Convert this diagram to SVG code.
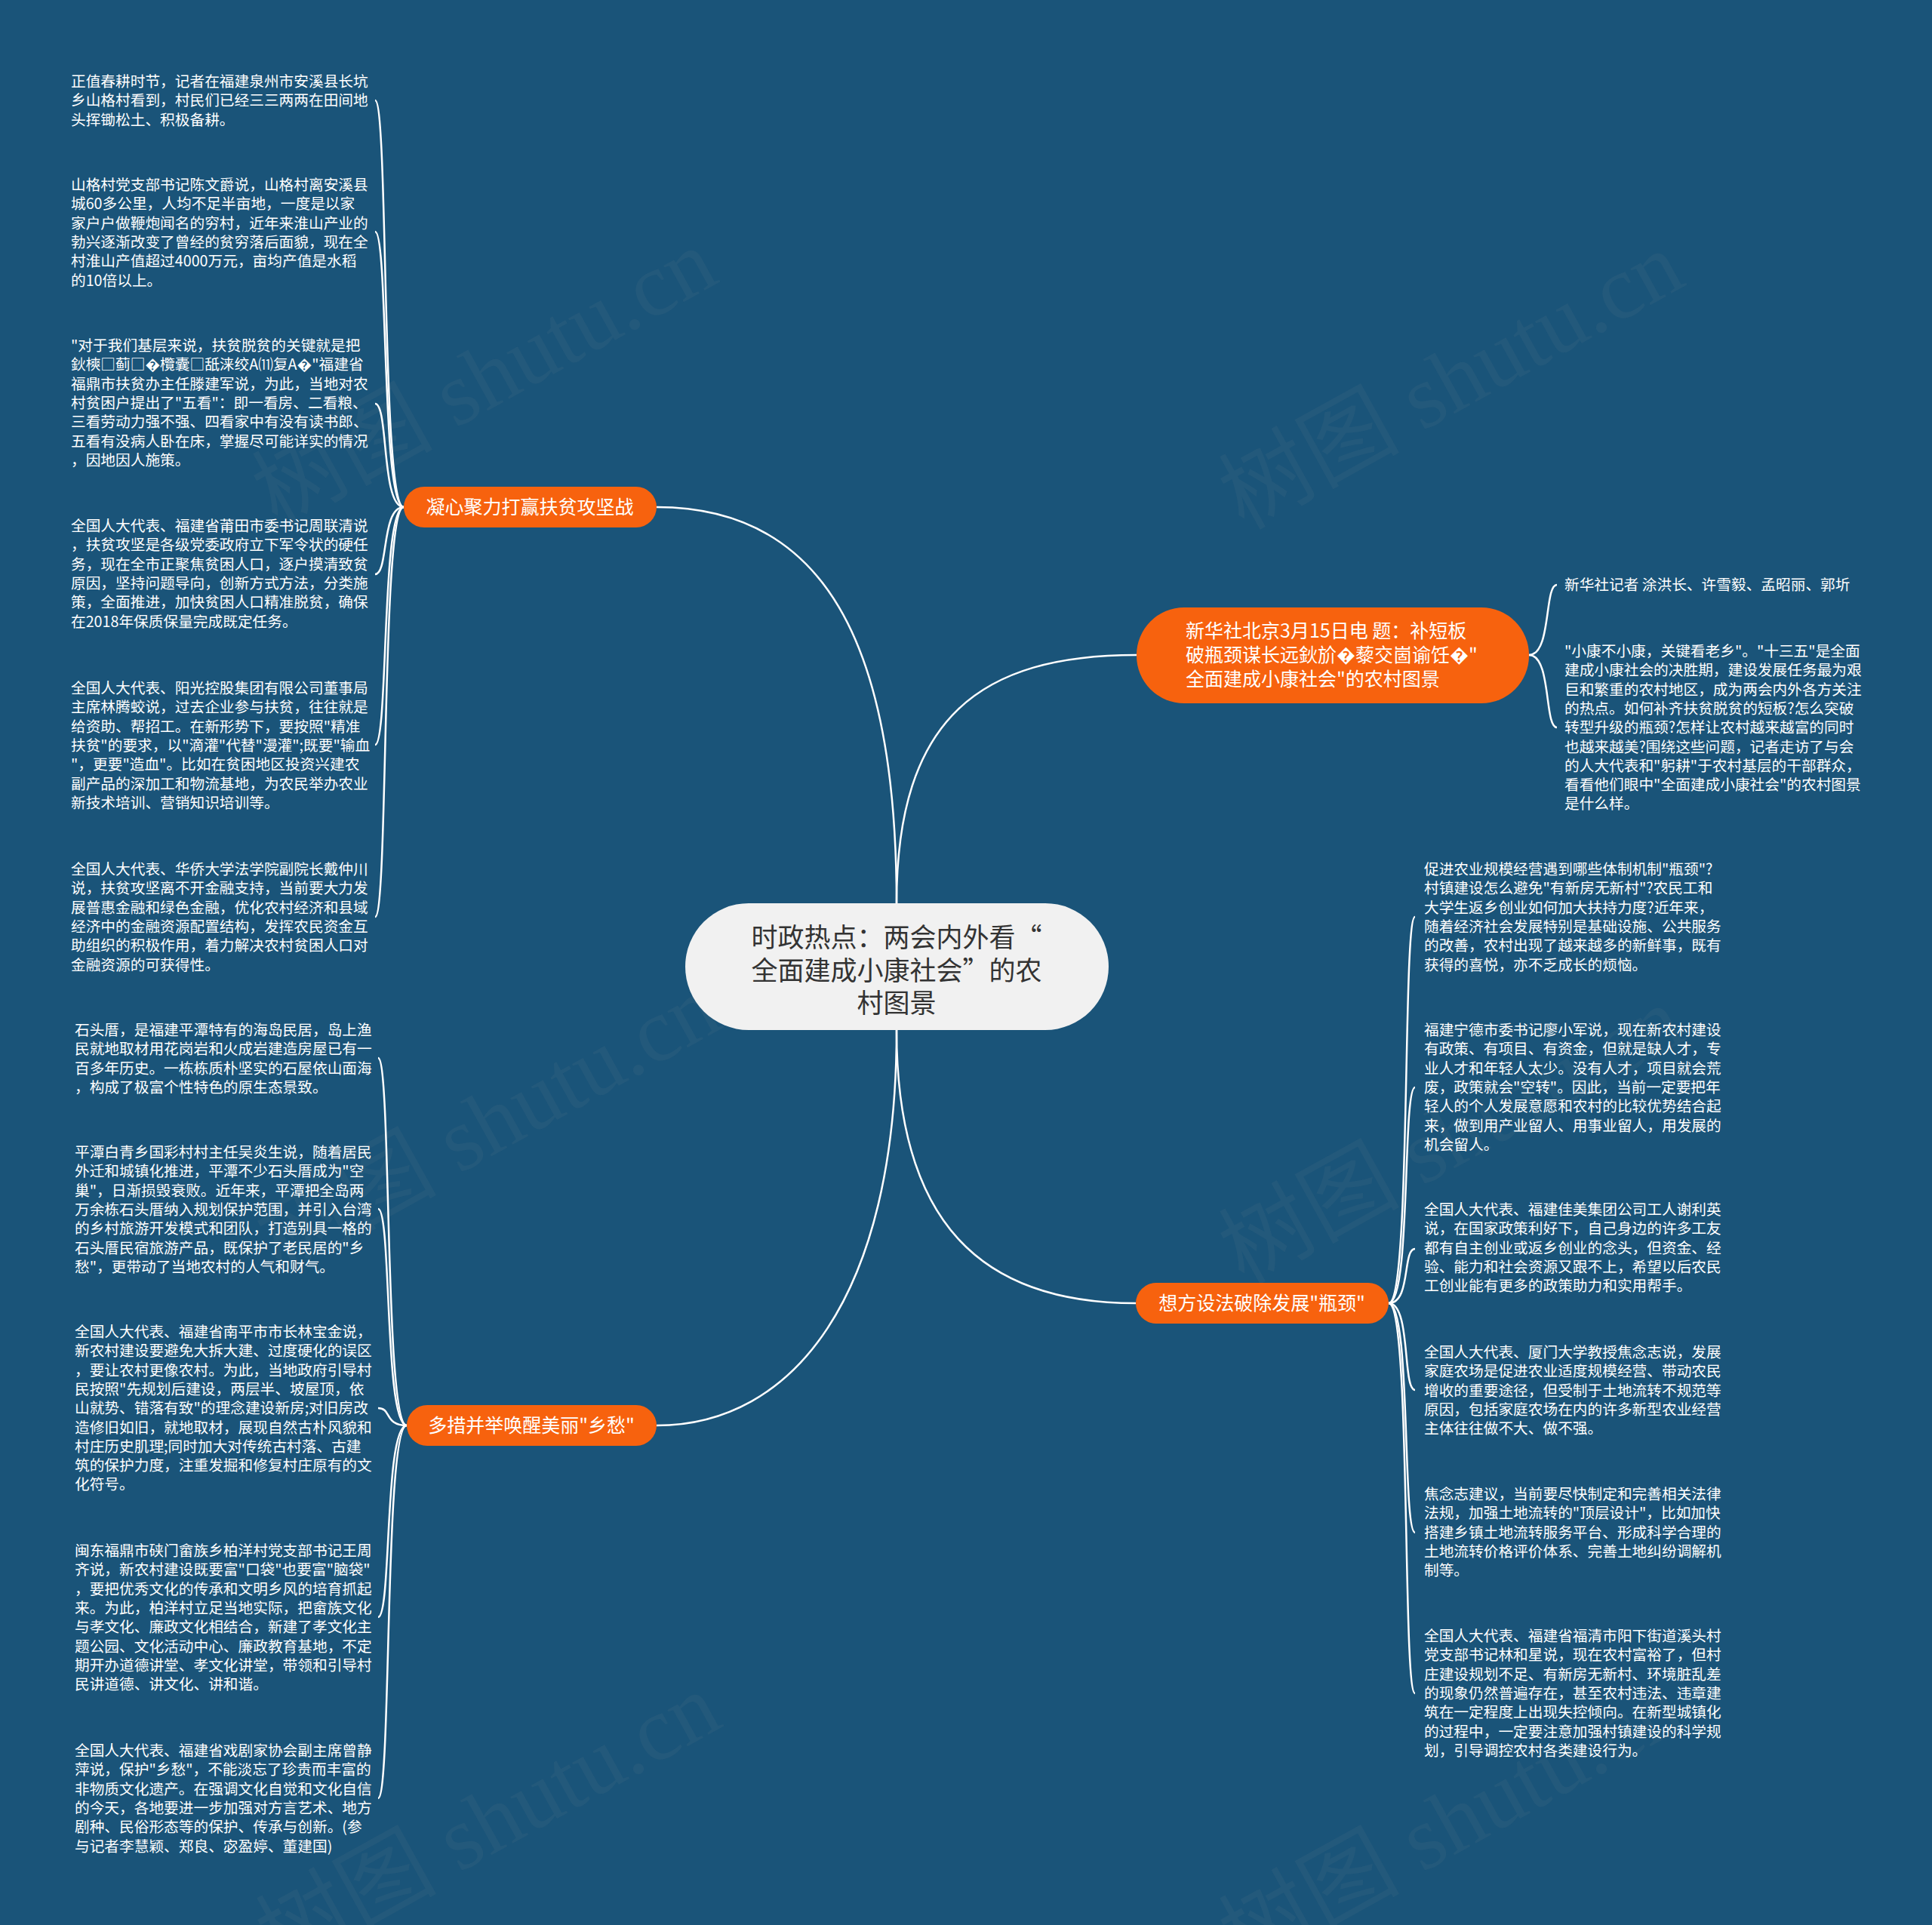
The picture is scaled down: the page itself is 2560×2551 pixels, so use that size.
<svg xmlns="http://www.w3.org/2000/svg" width="2560" height="2551" viewBox="0 0 2560 2551">
<defs>
<style>
.bg{fill:#1a5479}
.wm{font-family:"Liberation Serif","Noto Sans CJK SC",serif;font-size:120px;fill:#9a9a9a;fill-opacity:0.08;text-anchor:middle}
.leaf{font-family:"Noto Sans CJK SC","Noto Sans",sans-serif;font-size:19.7px;fill:#ffffff}
.br{fill:#f7620e}
.brt{font-family:"Noto Sans CJK SC","Noto Sans",sans-serif;font-size:25px;fill:#ffffff}
.ctr{fill:#f1f1f1}
.ctrt{font-family:"Noto Sans CJK SC","Noto Sans",sans-serif;font-size:35px;fill:#333333;text-anchor:middle}
.ln{fill:none;stroke:#ffffff;stroke-width:2.5}
</style>
</defs>
<rect class="bg" x="0" y="0" width="2560" height="2551"/>
<g id="watermarks">
<text class="wm" x="645" y="540" transform="rotate(-29 645 506)">树图 shutu.cn</text>
<text class="wm" x="1926" y="544" transform="rotate(-29 1926 510)">树图 shutu.cn</text>
<text class="wm" x="650" y="1528" transform="rotate(-29 650 1494)">树图 shutu.cn</text>
<text class="wm" x="1926" y="1544" transform="rotate(-29 1926 1510)">树图 shutu.cn</text>
<text class="wm" x="650" y="2454" transform="rotate(-29 650 2420)">树图 shutu.cn</text>
<text class="wm" x="1926" y="2454" transform="rotate(-29 1926 2420)">树图 shutu.cn</text>
</g>
<g id="connectors">
<path class="ln" d="M1188 1197 C1188 850 1090 672 870 672"/>
<path class="ln" d="M1188 1197 C1188 950 1300 868 1506 868"/>
<path class="ln" d="M1188 1365 C1188 1720 1050 1889 870 1889"/>
<path class="ln" d="M1188 1365 C1188 1620 1300 1727 1505 1727"/>
<path class="ln" d="M535 672 C505 672 515 133 497 133"/>
<path class="ln" d="M535 672 C505 672 515 307 497 307"/>
<path class="ln" d="M535 672 C505 672 515 535 497 535"/>
<path class="ln" d="M535 672 C505 672 515 761 497 761"/>
<path class="ln" d="M535 672 C505 672 515 987 497 987"/>
<path class="ln" d="M535 672 C505 672 515 1215 497 1215"/>
<path class="ln" d="M539 1889 C509 1889 519 1402 501 1402"/>
<path class="ln" d="M539 1889 C509 1889 519 1602 501 1602"/>
<path class="ln" d="M539 1889 C509 1889 519 1866 501 1866"/>
<path class="ln" d="M539 1889 C509 1889 519 2143 501 2143"/>
<path class="ln" d="M539 1889 C509 1889 519 2383 501 2383"/>
<path class="ln" d="M2026 868 C2056 868 2046 775 2063 775"/>
<path class="ln" d="M2026 868 C2056 868 2046 964 2063 964"/>
<path class="ln" d="M1840 1727 C1870 1727 1858 1215 1875 1215"/>
<path class="ln" d="M1840 1727 C1870 1727 1858 1441 1875 1441"/>
<path class="ln" d="M1840 1727 C1870 1727 1858 1655 1875 1655"/>
<path class="ln" d="M1840 1727 C1870 1727 1858 1842 1875 1842"/>
<path class="ln" d="M1840 1727 C1870 1727 1858 2031 1875 2031"/>
<path class="ln" d="M1840 1727 C1870 1727 1858 2244 1875 2244"/>
</g>
<g id="center">
<rect class="ctr" x="908" y="1197" width="561" height="168" rx="84"/>
<text class="ctrt"><tspan x="1188" y="1255">时政热点：两会内外看“</tspan><tspan x="1188" y="1299">全面建成小康社会”的农</tspan><tspan x="1188" y="1342">村图景</tspan></text>
</g>
<g id="branch1">
<rect class="br" x="535" y="645" width="335" height="54" rx="27"/>
<text class="brt" x="702" y="681" text-anchor="middle">凝心聚力打赢扶贫攻坚战</text>
</g>
<g id="branch2">
<rect class="br" x="539" y="1862" width="331" height="54" rx="27"/>
<text class="brt" x="704" y="1898" text-anchor="middle">多措并举唤醒美丽"乡愁"</text>
</g>
<g id="branch3">
<rect class="br" x="1506" y="805" width="520" height="127" rx="63"/>
<text class="brt"><tspan x="1571" y="845">新华社北京3月15日电 题：补短板</tspan><tspan x="1571" y="877">破瓶颈谋长远鈥斺�藜交崮谕饪�"</tspan><tspan x="1571" y="909">全面建成小康社会"的农村图景</tspan></text>
</g>
<g id="branch4">
<rect class="br" x="1505" y="1700" width="335" height="54" rx="27"/>
<text class="brt" x="1672" y="1736" text-anchor="middle">想方设法破除发展"瓶颈"</text>
</g>
<g id="leaf1-1"><text class="leaf"><tspan x="94" y="115">正值春耕时节，记者在福建泉州市安溪县长坑</tspan><tspan x="94" dy="25.3">乡山格村看到，村民们已经三三两两在田间地</tspan><tspan x="94" dy="25.3">头挥锄松土、积极备耕。</tspan></text></g>
<g id="leaf1-2"><text class="leaf"><tspan x="94" y="252">山格村党支部书记陈文爵说，山格村离安溪县</tspan><tspan x="94" dy="25.3">城60多公里，人均不足半亩地，一度是以家</tspan><tspan x="94" dy="25.3">家户户做鞭炮闻名的穷村，近年来淮山产业的</tspan><tspan x="94" dy="25.3">勃兴逐渐改变了曾经的贫穷落后面貌，现在全</tspan><tspan x="94" dy="25.3">村淮山产值超过4000万元，亩均产值是水稻</tspan><tspan x="94" dy="25.3">的10倍以上。</tspan></text></g>
<g id="leaf1-3"><text class="leaf"><tspan x="94" y="465">"对于我们基层来说，扶贫脱贫的关键就是把</tspan><tspan x="94" dy="25.3">鈥樉□蓟□�欖囊□舐涞绞A⑾复A�"福建省</tspan><tspan x="94" dy="25.3">福鼎市扶贫办主任滕建军说，为此，当地对农</tspan><tspan x="94" dy="25.3">村贫困户提出了"五看"：即一看房、二看粮、</tspan><tspan x="94" dy="25.3">三看劳动力强不强、四看家中有没有读书郎、</tspan><tspan x="94" dy="25.3">五看有没病人卧在床，掌握尽可能详实的情况</tspan><tspan x="94" dy="25.3">，因地因人施策。</tspan></text></g>
<g id="leaf1-4"><text class="leaf"><tspan x="94" y="704">全国人大代表、福建省莆田市委书记周联清说</tspan><tspan x="94" dy="25.3">，扶贫攻坚是各级党委政府立下军令状的硬任</tspan><tspan x="94" dy="25.3">务，现在全市正聚焦贫困人口，逐户摸清致贫</tspan><tspan x="94" dy="25.3">原因，坚持问题导向，创新方式方法，分类施</tspan><tspan x="94" dy="25.3">策，全面推进，加快贫困人口精准脱贫，确保</tspan><tspan x="94" dy="25.3">在2018年保质保量完成既定任务。</tspan></text></g>
<g id="leaf1-5"><text class="leaf"><tspan x="94" y="919">全国人大代表、阳光控股集团有限公司董事局</tspan><tspan x="94" dy="25.3">主席林腾蛟说，过去企业参与扶贫，往往就是</tspan><tspan x="94" dy="25.3">给资助、帮招工。在新形势下，要按照"精准</tspan><tspan x="94" dy="25.3">扶贫"的要求，以"滴灌"代替"漫灌";既要"输血</tspan><tspan x="94" dy="25.3">"，更要"造血"。比如在贫困地区投资兴建农</tspan><tspan x="94" dy="25.3">副产品的深加工和物流基地，为农民举办农业</tspan><tspan x="94" dy="25.3">新技术培训、营销知识培训等。</tspan></text></g>
<g id="leaf1-6"><text class="leaf"><tspan x="94" y="1159">全国人大代表、华侨大学法学院副院长戴仲川</tspan><tspan x="94" dy="25.3">说，扶贫攻坚离不开金融支持，当前要大力发</tspan><tspan x="94" dy="25.3">展普惠金融和绿色金融，优化农村经济和县域</tspan><tspan x="94" dy="25.3">经济中的金融资源配置结构，发挥农民资金互</tspan><tspan x="94" dy="25.3">助组织的积极作用，着力解决农村贫困人口对</tspan><tspan x="94" dy="25.3">金融资源的可获得性。</tspan></text></g>
<g id="leaf2-1"><text class="leaf"><tspan x="99" y="1372">石头厝，是福建平潭特有的海岛民居，岛上渔</tspan><tspan x="99" dy="25.3">民就地取材用花岗岩和火成岩建造房屋已有一</tspan><tspan x="99" dy="25.3">百多年历史。一栋栋质朴坚实的石屋依山面海</tspan><tspan x="99" dy="25.3">，构成了极富个性特色的原生态景致。</tspan></text></g>
<g id="leaf2-2"><text class="leaf"><tspan x="99" y="1534">平潭白青乡国彩村村主任吴炎生说，随着居民</tspan><tspan x="99" dy="25.3">外迁和城镇化推进，平潭不少石头厝成为"空</tspan><tspan x="99" dy="25.3">巢"，日渐损毁衰败。近年来，平潭把全岛两</tspan><tspan x="99" dy="25.3">万余栋石头厝纳入规划保护范围，并引入台湾</tspan><tspan x="99" dy="25.3">的乡村旅游开发模式和团队，打造别具一格的</tspan><tspan x="99" dy="25.3">石头厝民宿旅游产品，既保护了老民居的"乡</tspan><tspan x="99" dy="25.3">愁"，更带动了当地农村的人气和财气。</tspan></text></g>
<g id="leaf2-3"><text class="leaf"><tspan x="99" y="1772">全国人大代表、福建省南平市市长林宝金说，</tspan><tspan x="99" dy="25.3">新农村建设要避免大拆大建、过度硬化的误区</tspan><tspan x="99" dy="25.3">，要让农村更像农村。为此，当地政府引导村</tspan><tspan x="99" dy="25.3">民按照"先规划后建设，两层半、坡屋顶，依</tspan><tspan x="99" dy="25.3">山就势、错落有致"的理念建设新房;对旧房改</tspan><tspan x="99" dy="25.3">造修旧如旧，就地取材，展现自然古朴风貌和</tspan><tspan x="99" dy="25.3">村庄历史肌理;同时加大对传统古村落、古建</tspan><tspan x="99" dy="25.3">筑的保护力度，注重发掘和修复村庄原有的文</tspan><tspan x="99" dy="25.3">化符号。</tspan></text></g>
<g id="leaf2-4"><text class="leaf"><tspan x="99" y="2062">闽东福鼎市硖门畲族乡柏洋村党支部书记王周</tspan><tspan x="99" dy="25.3">齐说，新农村建设既要富"口袋"也要富"脑袋"</tspan><tspan x="99" dy="25.3">，要把优秀文化的传承和文明乡风的培育抓起</tspan><tspan x="99" dy="25.3">来。为此，柏洋村立足当地实际，把畲族文化</tspan><tspan x="99" dy="25.3">与孝文化、廉政文化相结合，新建了孝文化主</tspan><tspan x="99" dy="25.3">题公园、文化活动中心、廉政教育基地，不定</tspan><tspan x="99" dy="25.3">期开办道德讲堂、孝文化讲堂，带领和引导村</tspan><tspan x="99" dy="25.3">民讲道德、讲文化、讲和谐。</tspan></text></g>
<g id="leaf2-5"><text class="leaf"><tspan x="99" y="2327">全国人大代表、福建省戏剧家协会副主席曾静</tspan><tspan x="99" dy="25.3">萍说，保护"乡愁"，不能淡忘了珍贵而丰富的</tspan><tspan x="99" dy="25.3">非物质文化遗产。在强调文化自觉和文化自信</tspan><tspan x="99" dy="25.3">的今天，各地要进一步加强对方言艺术、地方</tspan><tspan x="99" dy="25.3">剧种、民俗形态等的保护、传承与创新。(参</tspan><tspan x="99" dy="25.3">与记者李慧颖、郑良、宓盈婷、董建国)</tspan></text></g>
<g id="leaf3-1"><text class="leaf"><tspan x="2073" y="782">新华社记者 涂洪长、许雪毅、孟昭丽、郭圻</tspan></text></g>
<g id="leaf3-2"><text class="leaf"><tspan x="2073" y="870">"小康不小康，关键看老乡"。"十三五"是全面</tspan><tspan x="2073" dy="25.3">建成小康社会的决胜期，建设发展任务最为艰</tspan><tspan x="2073" dy="25.3">巨和繁重的农村地区，成为两会内外各方关注</tspan><tspan x="2073" dy="25.3">的热点。如何补齐扶贫脱贫的短板?怎么突破</tspan><tspan x="2073" dy="25.3">转型升级的瓶颈?怎样让农村越来越富的同时</tspan><tspan x="2073" dy="25.3">也越来越美?围绕这些问题，记者走访了与会</tspan><tspan x="2073" dy="25.3">的人大代表和"躬耕"于农村基层的干部群众，</tspan><tspan x="2073" dy="25.3">看看他们眼中"全面建成小康社会"的农村图景</tspan><tspan x="2073" dy="25.3">是什么样。</tspan></text></g>
<g id="leaf4-1"><text class="leaf"><tspan x="1887" y="1159">促进农业规模经营遇到哪些体制机制"瓶颈"?</tspan><tspan x="1887" dy="25.3">村镇建设怎么避免"有新房无新村"?农民工和</tspan><tspan x="1887" dy="25.3">大学生返乡创业如何加大扶持力度?近年来，</tspan><tspan x="1887" dy="25.3">随着经济社会发展特别是基础设施、公共服务</tspan><tspan x="1887" dy="25.3">的改善，农村出现了越来越多的新鲜事，既有</tspan><tspan x="1887" dy="25.3">获得的喜悦，亦不乏成长的烦恼。</tspan></text></g>
<g id="leaf4-2"><text class="leaf"><tspan x="1887" y="1372">福建宁德市委书记廖小军说，现在新农村建设</tspan><tspan x="1887" dy="25.3">有政策、有项目、有资金，但就是缺人才，专</tspan><tspan x="1887" dy="25.3">业人才和年轻人太少。没有人才，项目就会荒</tspan><tspan x="1887" dy="25.3">废，政策就会"空转"。因此，当前一定要把年</tspan><tspan x="1887" dy="25.3">轻人的个人发展意愿和农村的比较优势结合起</tspan><tspan x="1887" dy="25.3">来，做到用产业留人、用事业留人，用发展的</tspan><tspan x="1887" dy="25.3">机会留人。</tspan></text></g>
<g id="leaf4-3"><text class="leaf"><tspan x="1887" y="1610">全国人大代表、福建佳美集团公司工人谢利英</tspan><tspan x="1887" dy="25.3">说，在国家政策利好下，自己身边的许多工友</tspan><tspan x="1887" dy="25.3">都有自主创业或返乡创业的念头，但资金、经</tspan><tspan x="1887" dy="25.3">验、能力和社会资源又跟不上，希望以后农民</tspan><tspan x="1887" dy="25.3">工创业能有更多的政策助力和实用帮手。</tspan></text></g>
<g id="leaf4-4"><text class="leaf"><tspan x="1887" y="1799">全国人大代表、厦门大学教授焦念志说，发展</tspan><tspan x="1887" dy="25.3">家庭农场是促进农业适度规模经营、带动农民</tspan><tspan x="1887" dy="25.3">增收的重要途径，但受制于土地流转不规范等</tspan><tspan x="1887" dy="25.3">原因，包括家庭农场在内的许多新型农业经营</tspan><tspan x="1887" dy="25.3">主体往往做不大、做不强。</tspan></text></g>
<g id="leaf4-5"><text class="leaf"><tspan x="1887" y="1987">焦念志建议，当前要尽快制定和完善相关法律</tspan><tspan x="1887" dy="25.3">法规，加强土地流转的"顶层设计"，比如加快</tspan><tspan x="1887" dy="25.3">搭建乡镇土地流转服务平台、形成科学合理的</tspan><tspan x="1887" dy="25.3">土地流转价格评价体系、完善土地纠纷调解机</tspan><tspan x="1887" dy="25.3">制等。</tspan></text></g>
<g id="leaf4-6"><text class="leaf"><tspan x="1887" y="2175">全国人大代表、福建省福清市阳下街道溪头村</tspan><tspan x="1887" dy="25.3">党支部书记林和星说，现在农村富裕了，但村</tspan><tspan x="1887" dy="25.3">庄建设规划不足、有新房无新村、环境脏乱差</tspan><tspan x="1887" dy="25.3">的现象仍然普遍存在，甚至农村违法、违章建</tspan><tspan x="1887" dy="25.3">筑在一定程度上出现失控倾向。在新型城镇化</tspan><tspan x="1887" dy="25.3">的过程中，一定要注意加强村镇建设的科学规</tspan><tspan x="1887" dy="25.3">划，引导调控农村各类建设行为。</tspan></text></g>
</svg>
